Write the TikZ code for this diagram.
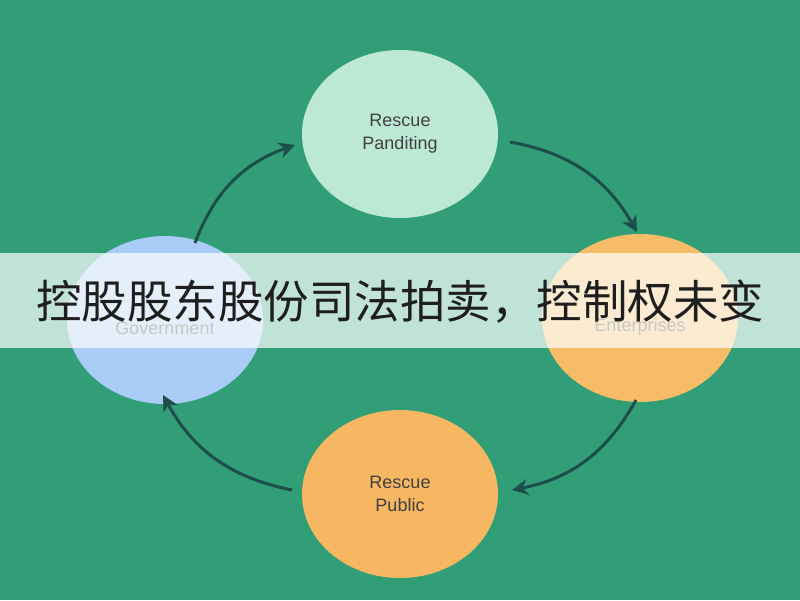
\documentclass[tikz,border=0pt]{standalone}
\usepackage{fontspec}
\setmainfont{Liberation Sans}
\newfontfamily\cjk{Noto Sans CJK SC}
\usetikzlibrary{arrows.meta,shapes.geometric}
\definecolor{bg}{HTML}{319E78}
\definecolor{arr}{HTML}{1E4E4C}
\begin{document}
\begin{tikzpicture}[x=1pt,y=-1pt,
  circ/.style={ellipse,minimum width=196pt,minimum height=168pt,inner sep=0pt,align=center,font=\fontsize{18}{23}\selectfont,text=black!75},
  lab/.style={font=\fontsize{18}{23}\selectfont,text=black!75},
  conn/.style={arr,line width=3pt,-{Stealth[length=16pt,width=16pt]}}]
\useasboundingbox (0,0) rectangle (800,600);
\fill[bg] (0,0) rectangle (800,600);
\node[circ,fill={rgb,255:red,190;green,232;blue,214}] (top) at (400,134) {Rescue\\Panditing};
\node[circ,fill={rgb,255:red,168;green,204;blue,245}] (left) at (165,320) {};
\node[lab] (leftlab) at (165,328) {Government};
\node[circ,fill={rgb,255:red,247;green,188;blue,104}] (right) at (640,318) {};
\node[lab] (rightlab) at (640,327) {Enterprises};
\node[circ,fill={rgb,255:red,246;green,182;blue,98}] (bot) at (400,494) {Rescue\\Public};
\coordinate (a1) at (195,243); \coordinate (a2) at (295,145);
\coordinate (b1) at (510,142); \coordinate (b2) at (637,232);
\coordinate (c1) at (636,400); \coordinate (c2) at (512,490);
\coordinate (d1) at (292,490); \coordinate (d2) at (163,395);
\draw[conn] (a1) to[bend left=25] (a2);
\draw[conn] (b1) to[bend left=25] (b2);
\draw[conn] (c1) to[bend left=25] (c2);
\draw[conn] (d1) to[bend left=25] (d2);
\fill[white,opacity=0.7] (0,253) rectangle (800,348);
\node[font=\cjk\fontsize{45.5}{50}\selectfont,text={rgb,255:red,30;green,30;blue,30}] (title) at (400,302) {控股股东股份司法拍卖，控制权未变};
\end{tikzpicture}
\end{document}
